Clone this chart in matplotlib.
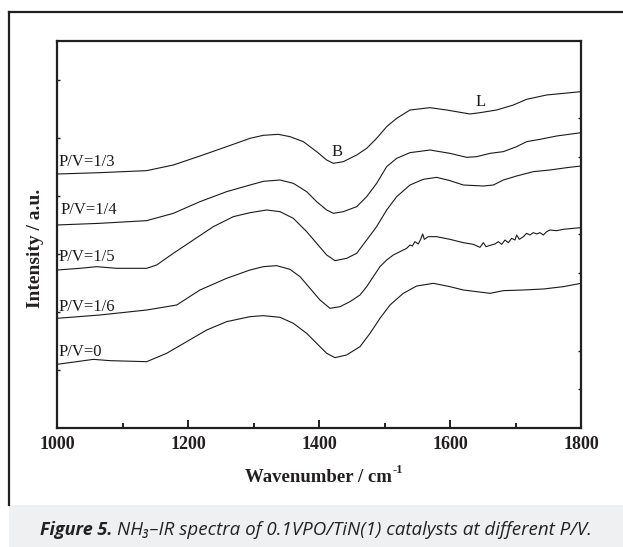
import matplotlib
matplotlib.use("Agg")
import matplotlib.pyplot as plt
from matplotlib.ticker import MultipleLocator, FixedLocator

# ---------------- data ----------------
labels = ["P/V=1/3", "P/V=1/4", "P/V=1/5", "P/V=1/6", "P/V=0"]

wn_13 = [1000, 1065.6, 1136.9, 1177.6, 1218.3, 1259.0, 1294.7, 1315.0, 1337.9, 1355.7,
         1376.1, 1396.4, 1411.7, 1421.9, 1437.1, 1457.5, 1472.8, 1488.0, 1503.3, 1518.6,
         1538.9, 1569.5, 1594.9, 1630.5, 1645.8, 1671.2, 1696.7, 1717.0, 1747.5, 1800]
int_13 = [6.563, 6.598, 6.650, 6.796, 7.029, 7.270, 7.485, 7.563, 7.588, 7.528,
          7.399, 7.141, 6.925, 6.839, 6.882, 7.054, 7.227, 7.485, 7.786, 8.002,
          8.217, 8.277, 8.217, 8.114, 8.148, 8.217, 8.346, 8.493, 8.605, 8.691]

wn_14 = [1000, 1065.6, 1136.9, 1177.6, 1218.3, 1259.0, 1294.7, 1315.0, 1340.5, 1360.8,
         1381.2, 1396.4, 1411.7, 1421.9, 1437.1, 1457.5, 1472.8, 1488.0, 1503.3, 1518.6,
         1538.9, 1569.5, 1600.0, 1625.4, 1640.7, 1661.1, 1681.4, 1701.8, 1717.0, 1737.4,
         1762.8, 1800]
int_14 = [5.246, 5.289, 5.358, 5.547, 5.849, 6.107, 6.279, 6.374, 6.408, 6.322,
          6.107, 5.849, 5.633, 5.547, 5.590, 5.719, 5.978, 6.322, 6.753, 6.968,
          7.115, 7.183, 7.097, 6.994, 7.011, 7.097, 7.141, 7.270, 7.399, 7.459,
          7.545, 7.631]

wn_15 = [1000, 1035.1, 1060.6, 1091.1, 1136.9, 1152.2, 1177.6, 1208.1, 1238.7, 1269.2,
         1294.7, 1320.1, 1340.5, 1360.8, 1381.2, 1396.4, 1411.7, 1424.4, 1442.2, 1457.5,
         1472.8, 1488.0, 1503.3, 1518.6, 1538.9, 1559.3, 1579.6, 1600.0, 1620.3, 1650.9,
         1666.2, 1681.4, 1701.8, 1727.2, 1752.7, 1778.1, 1800]
int_15 = [4.083, 4.126, 4.169, 4.126, 4.126, 4.212, 4.514, 4.858, 5.203, 5.461,
          5.564, 5.633, 5.590, 5.418, 5.073, 4.772, 4.471, 4.324, 4.384, 4.514,
          4.858, 5.203, 5.633, 5.978, 6.279, 6.426, 6.477, 6.391, 6.279, 6.253,
          6.279, 6.408, 6.512, 6.624, 6.667, 6.727, 6.770]

wn_16 = [1000, 1065.6, 1136.9, 1182.7, 1218.3, 1259.0, 1294.7, 1315.0, 1335.4, 1355.7,
         1371.0, 1386.3, 1401.5, 1416.8, 1432.1, 1447.3, 1462.6, 1472.8, 1482.9, 1493.1,
         1503.3, 1513.5, 1523.7, 1533.8, 1538.9, 1542.5, 1546.5, 1551.6, 1555.2, 1558.3,
         1560.8, 1566.9, 1579.6, 1600.0, 1620.3, 1635.6, 1645.8, 1650.9, 1655.0, 1661.1,
         1668.7, 1673.8, 1678.9, 1684.0, 1689.1, 1694.1, 1699.2, 1701.8, 1705.8, 1712.0,
         1717.0, 1722.1, 1727.2, 1732.3, 1737.4, 1742.5, 1747.6, 1752.7, 1762.8, 1773.0,
         1783.2, 1800]
int_16 = [2.834, 2.920, 3.049, 3.178, 3.566, 3.868, 4.083, 4.169, 4.195, 4.100,
          3.911, 3.609, 3.308, 3.092, 3.135, 3.265, 3.437, 3.652, 3.911, 4.169,
          4.341, 4.471, 4.557, 4.643, 4.729, 4.703, 4.815, 4.755, 4.875, 5.013,
          4.875, 4.944, 4.944, 4.875, 4.789, 4.746, 4.669, 4.789, 4.686, 4.720,
          4.755, 4.815, 4.746, 4.858, 4.789, 4.901, 4.858, 4.987, 4.875, 4.944,
          5.030, 4.987, 5.048, 5.013, 5.048, 4.987, 5.073, 5.116, 5.099, 5.134,
          5.151, 5.177]

wn_0 = [1000, 1030.0, 1055.5, 1080.9, 1136.9, 1167.4, 1198.0, 1228.5, 1259.0, 1294.7,
        1315.0, 1340.5, 1360.8, 1381.2, 1396.4, 1411.7, 1424.4, 1442.2, 1462.6, 1477.9,
        1493.1, 1508.4, 1528.7, 1549.1, 1574.6, 1600.0, 1620.3, 1640.7, 1661.1, 1681.4,
        1712.0, 1742.5, 1773.0, 1800]
int_0 = [1.645, 1.714, 1.774, 1.740, 1.714, 1.930, 2.231, 2.532, 2.748, 2.877,
         2.903, 2.860, 2.705, 2.446, 2.188, 1.930, 1.818, 1.887, 2.102, 2.446,
         2.834, 3.178, 3.480, 3.669, 3.738, 3.652, 3.566, 3.523, 3.480, 3.549,
         3.566, 3.592, 3.652, 3.738]

series = [(wn_13, int_13), (wn_14, int_14), (wn_15, int_15), (wn_16, int_16), (wn_0, int_0)]
label_y = [6.87, 5.63, 4.42, 3.13, 1.96]
label_x = [1002, 1005, 1002, 1002, 1002]

peak_text = ["B", "L"]
peak_x = [1427, 1646]
peak_y = [7.13, 8.42]

x_ticks = [1000, 1200, 1400, 1600, 1800]

# ---------------- figure ----------------
W, H = 623, 547
fig = plt.figure(figsize=(W / 100, H / 100), dpi=100)
fig.patch.set_facecolor("white")

# caption band and outer frame
dark = "#231f20"
fig.patches.append(plt.Rectangle((9 / W, 0), 1 - 9 / W, 42 / H, transform=fig.transFigure,
                                 facecolor="#eef0f2", edgecolor="none", zorder=0))
fig.add_artist(plt.Line2D([9 / W, 9 / W], [1 - 12 / H, 42 / H], transform=fig.transFigure,
                          color=dark, lw=1.6))
fig.add_artist(plt.Line2D([9 / W, 1], [1 - 12 / H, 1 - 12 / H], transform=fig.transFigure,
                          color=dark, lw=1.6))

ax = fig.add_axes([57 / W, (H - 428) / H, 524 / W, 387 / H])
for (wx, iy) in series:
    ax.plot(wx, iy, color="#1a1a1a", lw=0.8)

serif = "Liberation Serif"
for lab, lx, ly in zip(labels, label_x, label_y):
    ax.text(lx, ly, lab, fontsize=12, family=serif, ha="left", va="center", color="#1a1a1a")
for t, px, py in zip(peak_text, peak_x, peak_y):
    ax.text(px, py, t, fontsize=12, family=serif, ha="center", va="center", color="#1a1a1a")

ax.set_xlim(1000, 1800)
ax.set_ylim(0, 10)
ax.set_xticks(x_ticks)
ax.set_xticklabels([str(v) for v in x_ticks], family=serif, fontweight="bold", fontsize=13)
ax.xaxis.set_minor_locator(MultipleLocator(100))
ax.tick_params(axis="x", which="major", direction="in", length=6, width=1.4, pad=6,
               top=False, colors=dark)
ax.tick_params(axis="x", which="minor", direction="in", length=3.5, width=1.4, top=False,
               colors=dark)
ax.yaxis.set_major_locator(FixedLocator([1.5, 3.0, 4.5, 6.0, 7.5, 9.0]))
ax.tick_params(axis="y", which="major", direction="in", length=2.5, width=1.0, left=True,
               right=False, labelleft=False, colors=dark)
ax.yaxis.set_minor_locator(FixedLocator([1, 2, 3, 4, 5, 6, 7, 8, 9]))
ax.tick_params(axis="y", which="minor", direction="in", length=2.5, width=1.0, left=False,
               right=True, colors=dark)
for s in ax.spines.values():
    s.set_linewidth(1.6)
    s.set_color(dark)

# x label with superscript
renderer = fig.canvas.get_renderer()
xl = fig.text(245 / W, 1 - 477 / H, "Wavenumber / cm", family=serif, fontweight="bold",
              fontsize=13.5, ha="left", va="center", color=dark)
xb = xl.get_window_extent(renderer)
fig.text((xb.x1 + 1) / W, 1 - 470 / H, "-1", family=serif, fontweight="bold",
         fontsize=9, ha="left", va="center", color=dark)

fig.text(35 / W, 1 - 248 / H, "Intensity / a.u.", family=serif, fontweight="bold",
         fontsize=14, ha="center", va="center", rotation=90, color=dark)

# caption
cap_y = 1 - 530 / H
cap_font = ["Open Sans", "DejaVu Sans"]
t1 = fig.text(40 / W, cap_y, "Figure 5.", family=cap_font, style="italic",
              fontweight="bold", fontsize=13, ha="left", va="center", color="#222222")
bb = t1.get_window_extent(renderer)
fig.text(bb.x1 / W + 5 / W, cap_y,
         "NH\u2083\u2013IR spectra of 0.1VPO/TiN(1) catalysts at different P/V.",
         family=cap_font, style="italic", fontsize=13.5, ha="left",
         va="center", color="#222222")

fig.savefig("out.png", dpi=100, facecolor="white")
